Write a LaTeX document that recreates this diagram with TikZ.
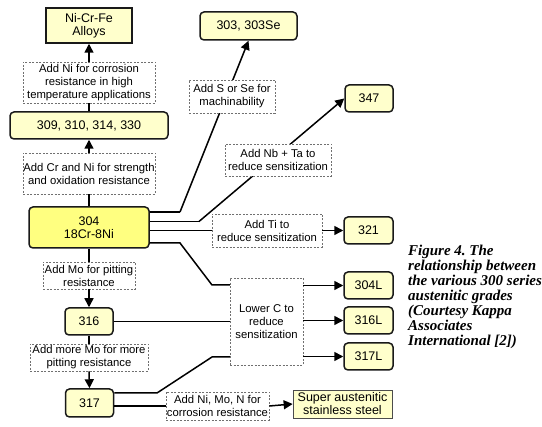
\documentclass[tikz,border=0pt]{standalone}
\usepackage{fontspec}
\setmainfont{Liberation Sans}
\newfontfamily\capfont{Liberation Serif}
\usetikzlibrary{arrows.meta,calc}
\definecolor{boxfill}{HTML}{FFFFCC}
\definecolor{mainfill}{HTML}{FFFF80}
\definecolor{dashgray}{HTML}{707070}
\tikzset{
  grade/.style={draw=black!90, line width=1.5pt, rounded corners=4pt, fill=boxfill, inner sep=0pt, align=center, font=\fontsize{12.5}{13}\selectfont},
  sqbox/.style={draw=black!90, line width=1.5pt, fill=boxfill, inner sep=0pt, align=center, font=\fontsize{12.5}{13}\selectfont},
  thinbox/.style={draw=black!70, line width=0.7pt, fill=boxfill, inner sep=0pt, align=center, font=\fontsize{12.5}{13}\selectfont},
  note/.style={draw=dashgray, line width=0.7pt, dash pattern=on 2pt off 1.5pt, fill=white, inner sep=0pt, align=center, font=\fontsize{11.3}{13}\selectfont},
  conn/.style={line width=1.5pt, black},
  arr/.style={conn, -{Triangle[length=9pt,width=9pt]}},
}
\begin{document}
\frenchspacing
\begin{tikzpicture}[x=1pt,y=-1pt]
\useasboundingbox (0,0) rectangle (542,427);
% left column
\node[sqbox, minimum width=86pt, minimum height=35pt] (nicr) at (89,25.5) {Ni-Cr-Fe\\Alloys};
\node[grade, minimum width=158pt, minimum height=27pt] (b309) at (89,125.5) {309, 310, 314, 330};
\node[grade, fill=mainfill, minimum width=120pt, minimum height=41pt] (b304) at (89,227.5) {304\\18Cr-8Ni};
\node[grade, minimum width=48pt, minimum height=27pt] (b316) at (89,321.5) {316};
\node[grade, minimum width=48pt, minimum height=28pt] (b317) at (89.5,403) {317};
% right column
\node[grade, minimum width=97pt, minimum height=28pt] (b303) at (248.5,26) {303, 303Se};
\node[grade, minimum width=48pt, minimum height=27pt] (b347) at (369,98.5) {347};
\node[grade, minimum width=49pt, minimum height=27pt] (b321) at (368.5,230.5) {321};
\node[grade, minimum width=49pt, minimum height=27pt] (b304L) at (368.5,285.5) {304L};
\node[grade, minimum width=49pt, minimum height=27pt] (b316L) at (368.5,320.5) {316L};
\node[grade, minimum width=49pt, minimum height=27pt] (b317L) at (368.5,356.5) {317L};
\node[thinbox, minimum width=99pt, minimum height=28pt] (super) at (342.5,404) {Super austenitic\\stainless steel};
% bend points
\coordinate (k1) at (180,212);
\coordinate (k2) at (199,221.5);
\coordinate (k3a) at (180,243);
\coordinate (k3b) at (212,285);
\coordinate (k4a) at (157,393);
\coordinate (k4b) at (212,357);
% connectors (drawn before notes so notes cover them)
\draw[conn] ([yshift=15.5pt]b304.east) -- (k1);
\draw[arr] (k1) -- (b303.south);
\draw[conn] ([yshift=6pt]b304.east) -- (k2);
\draw[arr] (k2) -- (b347.west);
\draw[conn] ([yshift=-15.5pt]b304.east) -- (k3a) -- (k3b) -- (230,285);
\draw[conn] ([yshift=10pt]b317.east) -- (k4a) -- (k4b) -- (230,357);
% notes
\node[note, minimum width=132pt, minimum height=41pt] (l1) at (89,82.5) {Add Ni for corrosion\\resistance in high\\temperature applications};
\node[note, minimum width=132pt, minimum height=41pt] (l2) at (89,173.5) {Add Cr and Ni for strength\\and oxidation resistance};
\node[note, minimum width=92pt, minimum height=27pt] (l3) at (89,275.5) {Add Mo for pitting\\resistance};
\node[note, minimum width=118pt, minimum height=27pt] (l4) at (89,357.5) {Add more Mo for more\\pitting resistance};
\node[note, minimum width=86pt, minimum height=33pt] (l5) at (232,96.5) {Add S or Se for\\machinability};
\node[note, minimum width=106pt, minimum height=32pt] (l6) at (278,160) {Add Nb + Ta to\\reduce sensitization};
\node[note, minimum width=110pt, minimum height=33pt] (l7) at (267,230.5) {Add Ti to\\reduce sensitization};
\node[note, minimum width=73pt, minimum height=87pt] (lowc) at (266.5,321.5) {Lower C to\\reduce\\sensitization};
\node[note, minimum width=103pt, minimum height=28pt] (l8) at (217.5,406) {Add Ni, Mo, N for\\corrosion resistance};
% vertical connectors
\draw[conn] (b309.north) -- (l1.south);
\draw[arr] (l1.north) -- (nicr.south);
\draw[conn] (b304.north) -- (l2.south);
\draw[arr] (l2.north) -- (b309.south);
\draw[conn] (b304.south) -- (l3.north);
\draw[arr] (l3.south) -- (b316.north);
\draw[conn] (b316.south) -- (l4.north);
\draw[arr] (l4.south) -- (b317.north);
% horizontal connectors
\draw[conn] (l7.west -| b304.east) -- (l7.west);
\draw[arr] (l7.east) -- (b321.west);
\draw[conn] (b316.east) -- (lowc.west |- b316.east);
\draw[arr] (lowc.east |- b304L.west) -- (b304L.west);
\draw[arr] (lowc.east |- b316L.west) -- (b316L.west);
\draw[arr] (lowc.east |- b317L.west) -- (b317L.west);
\draw[conn] (l8.west -| b317.east) -- (l8.west);
\draw[arr] (l8.east) -- (super.west);
% caption
\node[anchor=north west, inner sep=0pt, align=left, font=\capfont\bfseries\itshape\fontsize{15}{15}\selectfont] (cap) at (408,245)
  {Figure 4. The\\relationship between\\the various 300 series\\austenitic grades\\(Courtesy Kappa\\Associates\\International [2])};
\end{tikzpicture}
\end{document}
